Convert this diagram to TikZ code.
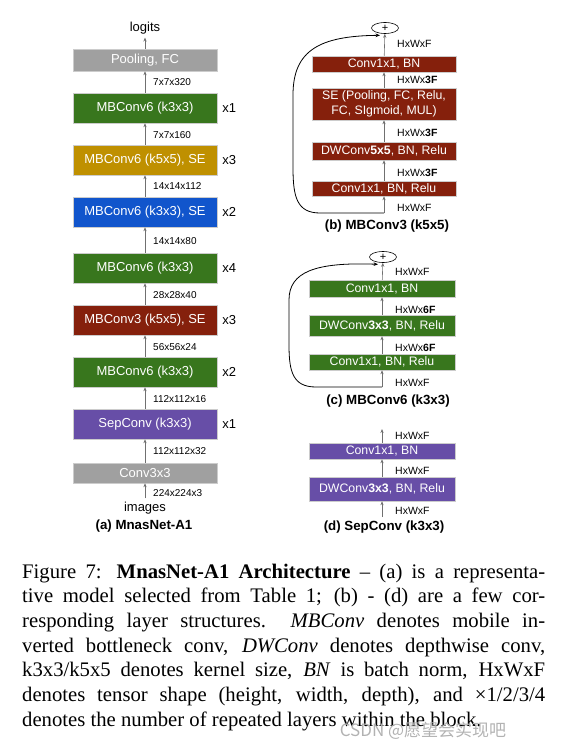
\documentclass[tikz,border=0pt]{standalone}
\usepackage{fontspec}
\setmainfont{Liberation Serif}
\setsansfont{Liberation Sans}
\newfontfamily\cjkwm{Noto Sans CJK SC}
\usetikzlibrary{arrows.meta,shapes.geometric}
\definecolor{cgray}{HTML}{A0A0A0}
\definecolor{cgreen}{HTML}{38761D}
\definecolor{cyellow}{HTML}{BF9000}
\definecolor{cblue}{HTML}{1155CC}
\definecolor{cred}{HTML}{85200C}
\definecolor{cpurple}{HTML}{674EA7}
\definecolor{arrgray}{HTML}{707070}
\begin{document}
\begin{tikzpicture}[x=1pt,y=-1pt,
  blk/.style={draw=black!20, line width=0.5pt, minimum width=144pt, minimum height=30pt, inner sep=0pt,
    text=white, font=\sffamily\fontsize{13}{15}\selectfont},
  rblk/.style={draw=black!20, line width=0.5pt, minimum width=144pt, inner sep=0pt, align=center,
    text=white, font=\sffamily\fontsize{12.3}{15}\selectfont},
  arr/.style={draw=arrgray, line width=0.6pt, -{Stealth[length=4pt,width=3.2pt]}},
  looparr/.style={draw=black, line width=0.8pt, -{Stealth[length=4.5pt,width=3.6pt]}},
  dim/.style={anchor=west, inner sep=0pt, font=\sffamily\fontsize{10}{12}\selectfont},
  rdim/.style={anchor=west, inner sep=0pt, font=\sffamily\fontsize{10.5}{12}\selectfont},
  mult/.style={anchor=west, inner sep=0pt, font=\sffamily\fontsize{13}{15}\selectfont},
  plain/.style={font=\sffamily\fontsize{13}{15}\selectfont},
  subcap/.style={font=\sffamily\bfseries\fontsize{13.3}{15}\selectfont},
  plus/.style={ellipse, draw=black, line width=0.6pt, minimum width=27pt, minimum height=11pt, inner sep=0pt,
    font=\sffamily\fontsize{11}{11}\selectfont},
  capline/.style={anchor=base west, inner sep=0pt, font=\fontsize{20.7}{24}\selectfont}
]
\useasboundingbox (0,0) rectangle (587,751);

% ---------- (a) MnasNet-A1 ----------
\node[plain] (logits) at (145,28) {logits};
\node[blk, fill=cgray, minimum height=22pt] (pool) at (145,60) {Pooling, FC};
\node[blk, fill=cgreen] (a1) at (145,108) {MBConv6 (k3x3)};
\node[blk, fill=cyellow] (a2) at (145,160) {MBConv6 (k5x5), SE};
\node[blk, fill=cblue] (a3) at (145,212) {MBConv6 (k3x3), SE};
\node[blk, fill=cgreen] (a4) at (145,268) {MBConv6 (k3x3)};
\node[blk, fill=cred] (a5) at (145,320) {MBConv3 (k5x5), SE};
\node[blk, fill=cgreen] (a6) at (145,372) {MBConv6 (k3x3)};
\node[blk, fill=cpurple] (a7) at (145,424) {SepConv (k3x3)};
\node[blk, fill=cgray, minimum height=20pt] (conv) at (145,473) {Conv3x3};
\node[plain] (images) at (145,508) {images};
\node[subcap] (capa) at (144,526) {(a) MnasNet-A1};

\draw[arr] (images) -- (conv);
\draw[arr] (conv) -- (a7);
\draw[arr] (a7) -- (a6);
\draw[arr] (a6) -- (a5);
\draw[arr] (a5) -- (a4);
\draw[arr] (a4) -- (a3);
\draw[arr] (a3) -- (a2);
\draw[arr] (a2) -- (a1);
\draw[arr] (a1) -- (pool);
\draw[arr] (pool) -- (logits);

\node[dim] (d1) at (153,82) {7x7x320};
\node[dim] (d2) at (153,135) {7x7x160};
\node[dim] (d3) at (153,186) {14x14x112};
\node[dim] (d4) at (153,241) {14x14x80};
\node[dim] (d5) at (153,295) {28x28x40};
\node[dim] (d6) at (153,347) {56x56x24};
\node[dim] (d7) at (153,399) {112x112x16};
\node[dim] (d8) at (153,451) {112x112x32};
\node[dim] (d9) at (153,493) {224x224x3};

\node[mult] (m1) at ([xshift=5pt]a1.east) {x1};
\node[mult] (m2) at ([xshift=5pt]a2.east) {x3};
\node[mult] (m3) at ([xshift=5pt]a3.east) {x2};
\node[mult] (m4) at ([xshift=5pt]a4.east) {x4};
\node[mult] (m5) at ([xshift=5pt]a5.east) {x3};
\node[mult] (m6) at ([xshift=5pt]a6.east) {x2};
\node[mult] (m7) at ([xshift=5pt]a7.east) {x1};

% ---------- (b) MBConv3 (k5x5) ----------
\node[plus] (bplus) at (385,28) {+};
\node[rblk, fill=cred, minimum height=16pt] (b1) at (384,64) {Conv1x1, BN};
\node[rblk, fill=cred, minimum height=32pt] (b2) at (384,104) {SE (Pooling, FC, Relu,\\FC, SIgmoid, MUL)};
\node[rblk, fill=cred, minimum height=18pt] (b3) at (384,151) {DWConv\textbf{5x5}, BN, Relu};
\node[rblk, fill=cred, minimum height=15pt] (b4) at (384,188.5) {Conv1x1, BN, Relu};
\coordinate (bin) at (384,213);
\draw[arr] (bin) -- (b4);
\draw[arr] (b4) -- (b3);
\draw[arr] (b3) -- (b2);
\draw[arr] (b2) -- (b1);
\draw[arr] (b1) -- (bplus);
\draw[looparr] (bin) -- (320,213) .. controls (297,213) and (293,197) .. (293,168) -- (293,95)
  .. controls (293,50) and (320,36) .. ([shift={(-5pt,-1.5pt)}]bplus.south);
\node[rdim] (bl1) at (397,44) {HxWxF};
\node[rdim] (bl2) at (397,80) {HxWx\textbf{3F}};
\node[rdim] (bl3) at (397,133) {HxWx\textbf{3F}};
\node[rdim] (bl4) at (397,173) {HxWx\textbf{3F}};
\node[rdim] (bl5) at (397,208) {HxWxF};
\node[subcap] (capb) at (387,226) {(b) MBConv3 (k5x5)};

% ---------- (c) MBConv6 (k3x3) ----------
\node[plus] (cplus) at (383,257) {+};
\node[rblk, fill=cgreen, minimum width=146pt, minimum height=17pt] (c1) at (382,288.5) {Conv1x1, BN};
\node[rblk, fill=cgreen, minimum width=146pt, minimum height=21pt] (c2) at (382,325.5) {DWConv\textbf{3x3}, BN, Relu};
\node[rblk, fill=cgreen, minimum width=146pt, minimum height=16pt] (c3) at (382,362) {Conv1x1, BN, Relu};
\coordinate (cin) at (382,387);
\draw[arr] (cin) -- (c3);
\draw[arr] (c3) -- (c2);
\draw[arr] (c2) -- (c1);
\draw[arr] (c1) -- (cplus);
\draw[looparr] (cin) -- (316,387) .. controls (293,387) and (289,372) .. (289,345) -- (289,300)
  .. controls (289,272) and (315,262) .. ([shift={(-5pt,-1.5pt)}]cplus.south);
\node[rdim] (cl1) at (395,272) {HxWxF};
\node[rdim] (cl2) at (395,310) {HxWx\textbf{6F}};
\node[rdim] (cl3) at (395,348) {HxWx\textbf{6F}};
\node[rdim] (cl4) at (395,383) {HxWxF};
\node[subcap] (capc) at (388,401) {(c) MBConv6 (k3x3)};

% ---------- (d) SepConv (k3x3) ----------
\coordinate (dtop) at (382,429);
\node[rblk, fill=cpurple, minimum width=146pt, minimum height=16pt] (dd1) at (382,451) {Conv1x1, BN};
\node[rblk, fill=cpurple, minimum width=146pt, minimum height=24pt] (dd2) at (382,489) {DWConv\textbf{3x3}, BN, Relu};
\coordinate (din) at (382,517);
\draw[arr] (din) -- (dd2);
\draw[arr] (dd2) -- (dd1);
\draw[arr] (dd1) -- (dtop);
\node[rdim] (dl1) at (395,436) {HxWxF};
\node[rdim] (dl2) at (395,471) {HxWxF};
\node[rdim] (dl3) at (395,511) {HxWxF};
\node[subcap] (capd) at (384,527) {(d) SepConv (k3x3)};

% ---------- figure caption ----------
\node[capline] (cap1) at (22,578) {\hbox to 523pt{Figure 7: \textbf{MnasNet-A1 Architecture} -- (a) is a representa-}};
\node[capline] (cap2) at (22,602.7) {\hbox to 523pt{tive model selected from Table 1; (b) - (d) are a few cor-}};
\node[capline] (cap3) at (22,627.3) {\hbox to 523pt{responding layer structures.\ \ \textit{MBConv} denotes mobile in-}};
\node[capline] (cap4) at (22,652) {\hbox to 523pt{verted bottleneck conv, \textit{DWConv} denotes depthwise conv,}};
\node[capline] (cap5) at (22,676.7) {\hbox to 523pt{k3x3/k5x5 denotes kernel size, \textit{BN} is batch norm, HxWxF}};
\node[capline] (cap6) at (22,701.3) {\hbox to 523pt{denotes tensor shape (height, width, depth), and ×1/2/3/4}};
\node[capline] (cap7) at (22,726) {denotes the number of repeated layers within the block.};

% watermark
\node[font=\cjkwm\fontsize{17}{17}\selectfont, text=black!30] (wm) at (423,731) {CSDN @愿望会实现吧};
\end{tikzpicture}
\end{document}
